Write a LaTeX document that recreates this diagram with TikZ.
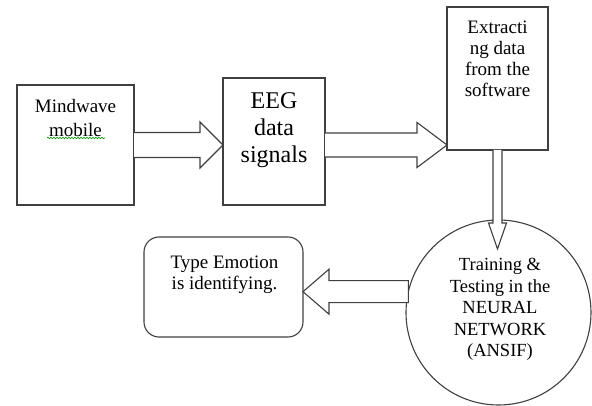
\documentclass[tikz,border=0pt]{standalone}
\usepackage{fontspec}
\setmainfont{Liberation Serif}
\usetikzlibrary{calc,decorations.pathmorphing}
\tikzset{
  box/.style={draw=black!75, line width=1.1pt, fill=white, inner sep=0pt, outer sep=0pt},
  txt/.style={inner sep=0pt, align=center, text=black},
  blk/.style={draw=black!75, line width=1.1pt, fill=white, line join=miter},
}
\begin{document}
\begin{tikzpicture}[x=1pt,y=-1pt]
\useasboundingbox (0,0) rectangle (592,406);
% boxes
\node[box, minimum width=117pt, minimum height=120pt] (m) at (75.5,145) {};
\node[txt, font=\fontsize{19}{24}\selectfont, anchor=north] (mt) at (75.5,98.7) {Mindwave\\mobile};
\draw[green!60!black, line width=0.6pt, decorate, decoration={snake, amplitude=0.8pt, segment length=3pt}] (47,138) -- (105,138);
\node[box, minimum width=102pt, minimum height=127pt] (e) at (274,141.5) {};
\node[txt, font=\fontsize{24}{27}\selectfont, anchor=north] (et) at (274,92) {EEG\\data\\signals};
\node[box, minimum width=101pt, minimum height=143pt] (x) at (497.5,78.5) {};
\node[txt, font=\fontsize{19}{21}\selectfont, anchor=north] (xt) at (497.5,21) {Extracti\\ng data\\from the\\software};
\node[box, circle, minimum size=185pt] (c) at (498.5,312.5) {};
\node[txt, font=\fontsize{18.5}{21.5}\selectfont] (ct) at (500,309.5) {Training \&\\Testing in the\\NEURAL\\NETWORK\\(ANSIF)};
\node[box, rounded corners=15pt, minimum width=159pt, minimum height=100pt] (r) at (223.5,287) {};
\node[txt, font=\fontsize{19}{21}\selectfont, anchor=north] (rt) at (224.5,255.3) {Type Emotion\\is identifying.};
% block arrows
\draw[blk] let \p1=(m.east), \p2=(e.west) in
  (\x1,\y1+12.5pt) -- (\x2-23pt,\y1+12.5pt) -- (\x2-23pt,\y1+23pt) -- (\x2,\y1)
  -- (\x2-23pt,\y1-23pt) -- (\x2-23pt,\y1-12.5pt) -- (\x1,\y1-12.5pt);
\draw[blk] let \p1=(e.east), \p2=(x.west), \p3=(m.east) in
  (\x1,\y3+12pt) -- (\x2-30pt,\y3+12pt) -- (\x2-30pt,\y3+22.5pt) -- (\x2,\y3)
  -- (\x2-30pt,\y3-22.5pt) -- (\x2-30pt,\y3-12pt) -- (\x1,\y3-12pt);
\draw[blk] let \p1=(x.south), \p2=(c.north) in
  (\x1-4.5pt,\y1) -- (\x1-4.5pt,\y2-3pt) -- (\x1-9pt,\y2-3pt) -- (\x1,\y2-29pt)
  -- (\x1+9pt,\y2-3pt) -- (\x1+4.5pt,\y2-3pt) -- (\x1+4.5pt,\y1);
\draw[blk] let \p1=(c.167), \p2=(r.east) in
  (\x1,\y1+11pt) -- (\x2+26pt,\y1+11pt) -- (\x2+26pt,\y1+22.5pt) -- (\x2,\y1)
  -- (\x2+26pt,\y1-22.5pt) -- (\x2+26pt,\y1-11pt) -- (\x1,\y1-11pt) -- cycle;
\end{tikzpicture}
\end{document}
